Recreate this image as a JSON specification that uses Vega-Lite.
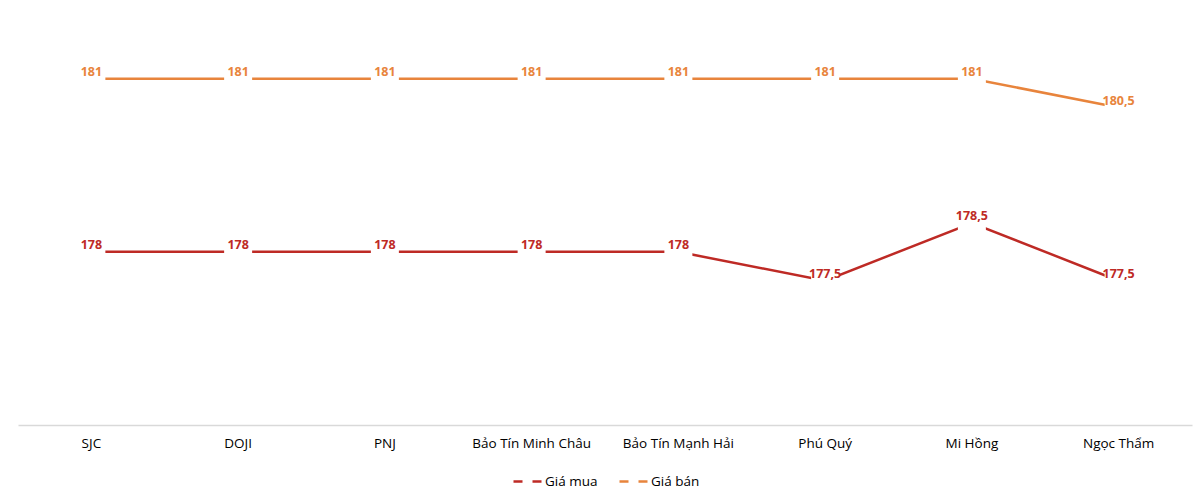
{
  "$schema": "https://vega.github.io/schema/vega-lite/v6.json",
  "autosize": {"type": "none"},
  "padding": {"left": 18, "top": 21, "right": 8, "bottom": 73},
  "width": 1174,
  "height": 404,
  "background": "white",
  "data": {
    "values": [
      {"brand": "SJC", "series": "Giá mua", "price": 178},
      {"brand": "DOJI", "series": "Giá mua", "price": 178},
      {"brand": "PNJ", "series": "Giá mua", "price": 178},
      {"brand": "Bảo Tín Minh Châu", "series": "Giá mua", "price": 178},
      {"brand": "Bảo Tín Mạnh Hải", "series": "Giá mua", "price": 178},
      {"brand": "Phú Quý", "series": "Giá mua", "price": 177.5},
      {"brand": "Mi Hồng", "series": "Giá mua", "price": 178.5},
      {"brand": "Ngọc Thẩm", "series": "Giá mua", "price": 177.5},
      {"brand": "SJC", "series": "Giá bán", "price": 181},
      {"brand": "DOJI", "series": "Giá bán", "price": 181},
      {"brand": "PNJ", "series": "Giá bán", "price": 181},
      {"brand": "Bảo Tín Minh Châu", "series": "Giá bán", "price": 181},
      {"brand": "Bảo Tín Mạnh Hải", "series": "Giá bán", "price": 181},
      {"brand": "Phú Quý", "series": "Giá bán", "price": 181},
      {"brand": "Mi Hồng", "series": "Giá bán", "price": 181},
      {"brand": "Ngọc Thẩm", "series": "Giá bán", "price": 180.5}
    ]
  },
  "encoding": {
    "x": {
      "field": "brand", "type": "nominal", "sort": null,
      "scale": {"type": "band", "paddingInner": 0, "paddingOuter": 0},
      "axis": {
        "title": null, "labelAngle": 0, "ticks": false, "grid": false,
        "domainColor": "#d9d9d9", "domainWidth": 1.5,
        "labelFont": "Open Sans", "labelFontSize": 13.5, "labelColor": "#000000",
        "labelPadding": 11
      }
    },
    "y": {
      "field": "price", "type": "quantitative",
      "scale": {"domain": [175, 182], "zero": false, "nice": false},
      "axis": null
    }
  },
  "layer": [
    {
      "mark": {"type": "line", "strokeWidth": 2.5},
      "encoding": {
        "color": {
          "field": "series", "type": "nominal",
          "scale": {"domain": ["Giá mua", "Giá bán"], "range": ["#be2a25", "#e8843c"]},
          "legend": {
            "title": null, "orient": "none", "direction": "horizontal",
            "legendX": 494, "legendY": 445,
            "symbolType": "stroke", "symbolStrokeWidth": 2.5, "symbolSize": 784,
            "symbolDash": [9, 10], "labelFont": "Open Sans", "labelFontSize": 13.5,
            "labelColor": "#000000", "labelOffset": 2, "columnPadding": 16
          }
        }
      }
    },
    {
      "mark": {"type": "point", "shape": "square", "filled": true, "color": "white", "opacity": 1, "size": 784}
    },
    {
      "transform": [{"calculate": "replace(format(datum.price, '.1~f'), '.', ',')", "as": "lbl"}],
      "mark": {"type": "text", "font": "Open Sans", "fontSize": 12.5, "fontWeight": "bold", "dy": -7},
      "encoding": {
        "text": {"field": "lbl", "type": "nominal"},
        "color": {"field": "series", "type": "nominal", "legend": null}
      }
    }
  ],
  "config": {"view": {"stroke": null}}
}
